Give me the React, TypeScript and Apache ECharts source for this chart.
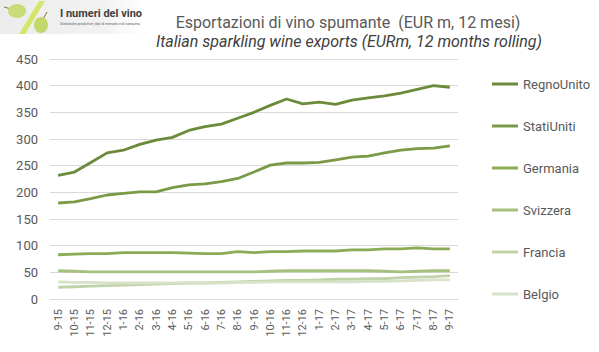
import React, { useEffect, useRef } from "react";
import * as echarts from "echarts";

const categories = ["9-15","10-15","11-15","12-15","1-16","2-16","3-16","4-16","5-16","6-16","7-16","8-16","9-16","10-16","11-16","12-16","1-17","2-17","3-17","4-17","5-17","6-17","7-17","8-17","9-17"];
const regnoUnito = [232, 238, 256, 274, 279, 290, 298, 303, 316, 323, 328, 339, 350, 363, 375, 366, 369, 365, 373, 377, 381, 386, 393, 400, 397];
const statiUniti = [180, 182, 188, 195, 198, 201, 201, 209, 214, 216, 220, 226, 238, 251, 255, 255, 256, 261, 266, 268, 274, 279, 282, 283, 287];
const germania = [83, 84, 85, 85, 87, 87, 87, 87, 86, 85, 85, 89, 87, 89, 89, 90, 90, 90, 92, 92, 94, 94, 96, 94, 94];
const svizzera = [53, 52, 51, 51, 51, 51, 51, 51, 51, 51, 51, 51, 51, 52, 53, 53, 53, 53, 53, 53, 52, 51, 52, 53, 53];
const francia = [22, 23, 24, 25, 26, 27, 28, 29, 30, 30, 31, 32, 33, 34, 35, 35, 36, 37, 37, 38, 38, 40, 41, 42, 44];
const belgio = [32, 31, 31, 30, 30, 30, 30, 30, 30, 30, 30, 31, 31, 32, 32, 32, 32, 32, 32, 33, 33, 34, 35, 36, 36];
const seriesNames = ["RegnoUnito", "StatiUniti", "Germania", "Svizzera", "Francia", "Belgio"];
const seriesData = [regnoUnito, statiUniti, germania, svizzera, francia, belgio];
const colors = ["#6b8a3a", "#7b9a47", "#8cab56", "#a6c07f", "#c0d2a8", "#d7e2c8"];

const FONT = "Roboto, 'Liberation Sans', sans-serif";

export default function App() {
  const ref = useRef<HTMLDivElement>(null);
  useEffect(() => {
    if (!ref.current) return;
    const chart = echarts.init(ref.current, undefined, { renderer: "svg" });
    chart.setOption({
      animation: false,
      backgroundColor: "#ffffff",
      grid: { left: 50, right: 141, top: 59, bottom: 53, containLabel: false },
      xAxis: {
        type: "category",
        data: categories,
        boundaryGap: true,
        axisLine: { show: true, lineStyle: { color: "#d9d9d9", width: 1 } },
        axisTick: { show: false },
        axisLabel: { rotate: 90, interval: 0, fontSize: 11, color: "#595959", fontFamily: FONT, margin: 10 },
      },
      yAxis: {
        type: "value",
        min: 0,
        max: 450,
        interval: 50,
        axisLine: { show: false },
        axisTick: { show: false },
        splitLine: { lineStyle: { color: "#d9d9d9", width: 1 } },
        axisLabel: { fontSize: 13, color: "#595959", fontFamily: FONT, margin: 12 },
      },
      legend: {
        orient: "vertical",
        left: 487,
        top: 72,
        itemWidth: 26,
        itemHeight: 3,
        itemGap: 28,
        icon: "rect",
        textStyle: { fontSize: 13, color: "#595959", fontFamily: FONT, lineHeight: 14 },
        data: seriesNames,
      },
      series: seriesNames.map((name, i) => ({
        name,
        type: "line",
        data: seriesData[i],
        symbol: "none",
        smooth: false,
        color: colors[i],
        lineStyle: { width: 2.8, color: colors[i] },
      })),
      graphic: [
        {
          type: "rect",
          shape: { x: 0, y: 0, width: 145, height: 34 },
          style: {
            fill: new echarts.graphic.LinearGradient(0, 0, 1, 0, [
              { offset: 0, color: "#ececec" },
              { offset: 0.7, color: "#f2f2f2" },
              { offset: 1, color: "#ffffff" },
            ]),
          },
          z: 10,
        },
        {
          type: "polygon",
          shape: { points: [[39, 1], [45, 1], [25, 34], [19, 34]] },
          style: { fill: "#d4e66a" },
          z: 11,
        },
        { type: "line", shape: { x1: 4, y1: 7, x2: 11, y2: 9 }, style: { stroke: "#8a6a3a", lineWidth: 1 }, z: 11 },
        { type: "ellipse", shape: { cx: 17, cy: 11, rx: 9, ry: 7 }, style: { fill: "#c8dc78" }, z: 12 },
        { type: "line", shape: { x1: 47, y1: 12, x2: 43, y2: 19 }, style: { stroke: "#8a6a3a", lineWidth: 1 }, z: 11 },
        { type: "ellipse", shape: { cx: 41, cy: 25, rx: 7, ry: 8 }, style: { fill: "#c2d86c" }, z: 12 },
        {
          type: "text",
          left: 60,
          top: 8,
          style: { text: "I numeri del vino", font: "bold 11px Roboto, sans-serif", fill: "#404040" },
          z: 12,
        },
        {
          type: "text",
          left: 60,
          top: 22,
          style: { text: "Statistiche produttive, dati di mercato e di consumo.", font: "3.5px Roboto, sans-serif", fill: "#606060" },
          z: 12,
        },
        {
          type: "text",
          x: 348,
          y: 22,
          style: {
            text: "Esportazioni di vino spumante  (EUR m, 12 mesi)",
            font: "16px " + FONT,
            lineHeight: 16,
            fill: "#595959",
            align: "center",
            verticalAlign: "middle",
          },
        },
        {
          type: "text",
          x: 349,
          y: 41,
          style: {
            text: "Italian sparkling wine exports (EURm, 12 months rolling)",
            font: "italic 16px " + FONT,
            lineHeight: 16,
            fill: "#404040",
            align: "center",
            verticalAlign: "middle",
          },
        },
      ],
    });
    return () => chart.dispose();
  }, []);
  return <div ref={ref} style={{ position: "fixed", left: 0, top: 0, width: 599, height: 352 }} />;
}
